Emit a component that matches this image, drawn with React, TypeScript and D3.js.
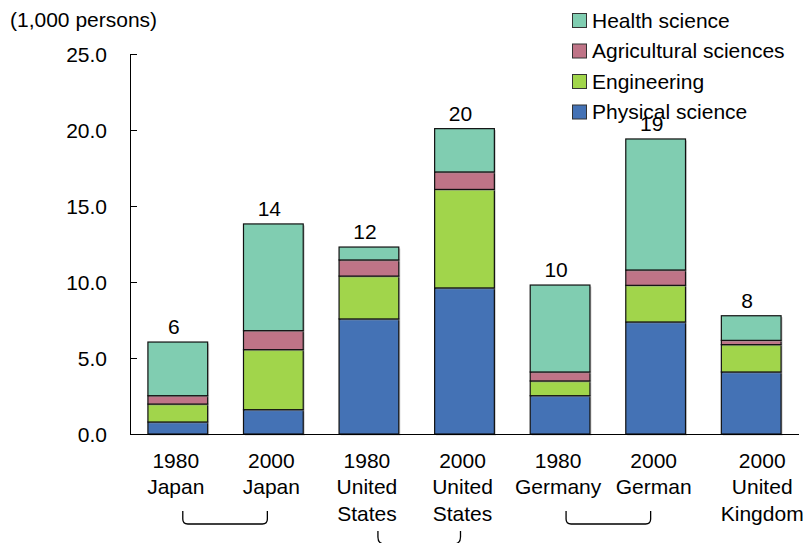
import React from "react";
import * as d3 from "d3";

const categories = ["1980 Japan", "2000 Japan", "1980 United States", "2000 United States", "1980 Germany", "2000 German", "2000 United Kingdom"];
const categoryLines = [
  ["1980", "Japan"],
  ["2000", "Japan"],
  ["1980", "United", "States"],
  ["2000", "United", "States"],
  ["1980", "Germany"],
  ["2000", "German"],
  ["2000", "United", "Kingdom"],
];
const seriesNames = ["Physical science", "Engineering", "Agricultural sciences", "Health science"];
const physical = [0.79, 1.6, 7.57, 9.61, 2.52, 7.37, 4.08];
const engineering = [1.18, 3.95, 2.82, 6.48, 0.97, 2.41, 1.8];
const agricultural = [0.55, 1.25, 1.06, 1.15, 0.59, 1.01, 0.28];
const health = [3.53, 7.02, 0.85, 2.85, 5.72, 8.62, 1.62];
const totalLabels = ["6", "14", "12", "20", "10", "19", "8"];
const yTicks = [0, 5, 10, 15, 20, 25];
const yUnit = "(1,000 persons)";
const legendOrder = ["Health science", "Agricultural sciences", "Engineering", "Physical science"];

const colors: Record<string, string> = {
  "Physical science": "#4472B5",
  "Engineering": "#A1D54B",
  "Agricultural sciences": "#BF7487",
  "Health science": "#80CDB1",
};

const W = 807;
const H = 543;
const FONT = "'Liberation Sans', Arial, sans-serif";
const FS = 21;

export default function App() {
  const x = d3.scaleBand<string>().domain(categories).range([130, 799]).paddingInner(0.375).paddingOuter(0.1875);
  const y = d3.scaleLinear().domain([0, 25]).range([434, 54]);

  const rows = categories.map((c, i) => ({
    cat: c,
    "Physical science": physical[i],
    "Engineering": engineering[i],
    "Agricultural sciences": agricultural[i],
    "Health science": health[i],
  }));
  const stacked = d3.stack<any>().keys(seriesNames)(rows);

  const bw = x.bandwidth();
  const cx = (i: number) => (x(categories[i]) as number) + bw / 2;
  const labelShift = (i: number) => (i === 6 ? 13 : 0);

  const bracket = (x1: number, x2: number, yTop: number, yBot: number, r: number) =>
    `M${x1},${yTop} L${x1},${yBot - r} Q${x1},${yBot} ${x1 + r},${yBot} L${x2 - r},${yBot} Q${x2},${yBot} ${x2},${yBot - r} L${x2},${yTop}`;

  return (
    <svg width={W} height={H} style={{ position: "absolute", left: 0, top: 0, background: "#fff" }} fontFamily={FONT}>
      <rect x={0} y={0} width={W} height={H} fill="#fff" />
      {/* unit label */}
      <text x={10} y={27} fontSize={FS} fill="#000">{yUnit}</text>

      {/* bars */}
      {stacked.map((s) => (
        <g key={s.key}>
          {s.map((d, i) => (
            <g key={i}>
              <rect x={(x(categories[i]) as number) + 1.5} y={y(d[1]) + 1.5} width={bw} height={y(d[0]) - y(d[1])} fill="#999" opacity={0.5} />
              <rect x={x(categories[i])} y={y(d[1])} width={bw} height={y(d[0]) - y(d[1])} fill={colors[s.key]} stroke="#111" strokeWidth={1.2} />
            </g>
          ))}
        </g>
      ))}

      {/* totals */}
      {categories.map((c, i) => {
        const top = stacked[stacked.length - 1][i][1];
        return (
          <text key={c} x={cx(i) - 4} y={y(top) - 8} textAnchor="middle" fontSize={FS} fill="#000">{totalLabels[i]}</text>
        );
      })}

      {/* y axis */}
      <line x1={130.5} x2={130.5} y1={y(25)} y2={y(0)} stroke="#000" strokeWidth={1} />
      {yTicks.map((t) => (
        <g key={t}>
          <line x1={130} x2={137} y1={y(t) + 0.5} y2={y(t) + 0.5} stroke="#000" strokeWidth={1} />
          <text x={107} y={y(t) + 7.5} textAnchor="end" fontSize={FS} fill="#000">{t.toFixed(1)}</text>
        </g>
      ))}
      {/* x axis */}
      <line x1={130} x2={799} y1={434.5} y2={434.5} stroke="#000" strokeWidth={1} />

      {/* category labels */}
      {categoryLines.map((lines, i) => (
        <text key={i} x={cx(i) - 2 + labelShift(i)} textAnchor="middle" fontSize={FS} fill="#000">
          {lines.map((l, j) => (
            <tspan key={j} x={cx(i) - 2 + labelShift(i)} y={467.5 + j * 26.7}>{l}</tspan>
          ))}
        </text>
      ))}

      {/* brackets */}
      <path d={bracket(cx(0) + 5, cx(1) - 6, 511, 524, 5)} fill="none" stroke="#000" strokeWidth={1.3} />
      <path d={bracket(cx(2) + 9, cx(3) - 4, 531, 544, 7)} fill="none" stroke="#000" strokeWidth={1.3} />
      <path d={bracket(cx(4) + 6, cx(5) - 5, 511, 524, 5)} fill="none" stroke="#000" strokeWidth={1.3} />

      {/* legend */}
      {legendOrder.map((name, i) => (
        <g key={name} transform={`translate(572, ${13 + i * 30.5})`}>
          <rect x={0.5} y={0.5} width={14} height={14} fill={colors[name]} stroke="#333" strokeWidth={1} />
          <text x={20} y={14.5} fontSize={FS} fill="#000">{name}</text>
        </g>
      ))}
    </svg>
  );
}
